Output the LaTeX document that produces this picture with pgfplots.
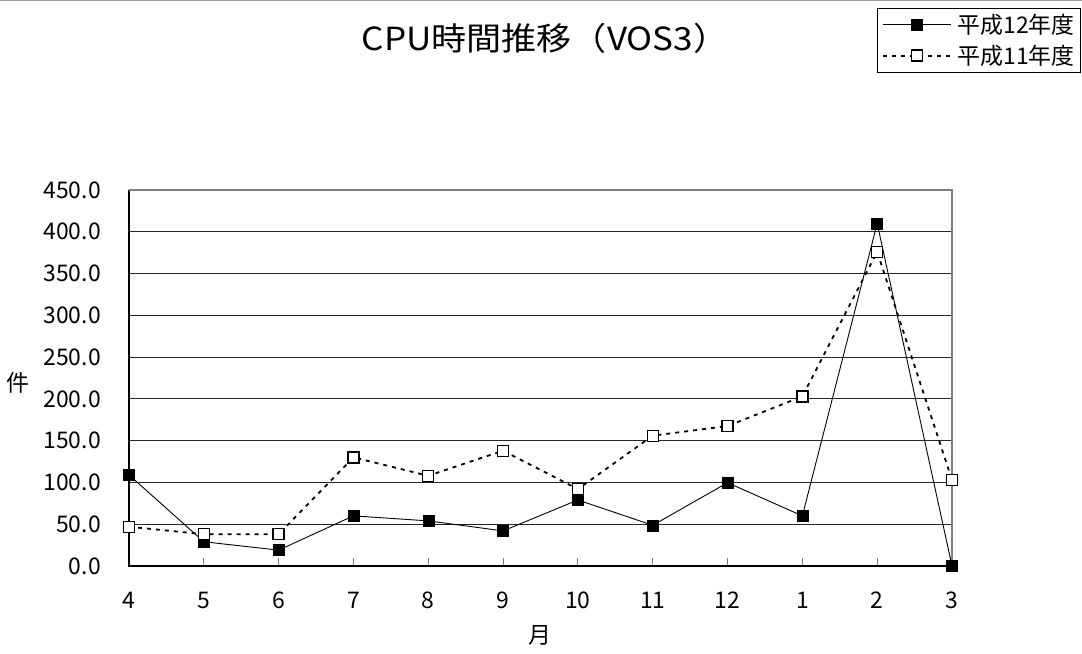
\documentclass[border=0pt]{standalone}
\usepackage{fontspec}
\setmainfont{Noto Sans CJK JP}
\newfontfamily\titlefont[FakeStretch=1.1]{Noto Sans CJK JP}
\usepackage{pgfplots}
\pgfplotsset{compat=1.18}
\pgfplotstableread{
x a b
0 109 47
1 29 38
2 19 38
3 60 130
4 54 108
5 42 138
6 79 92
7 48.7 156
8 99.7 167.5
9 60 203
10 410 376
11 0 103
}\data
\begin{document}
\begin{tikzpicture}
\useasboundingbox (0,0) rectangle (1082bp,654bp);
\draw[gray!80, line width=1.5bp] (0,653.3bp) -- (1082bp,653.3bp);
\begin{axis}[
  at={(129bp,88bp)}, anchor=south west,
  scale only axis, width=823bp, height=376bp,
  clip=false,
  xmin=0, xmax=11, ymin=0, ymax=450,
  xtick={0,...,11},
  xticklabels={4,5,6,7,8,9,10,11,12,1,2,3},
  ytick={0,50,...,450},
  yticklabel={\pgfmathprintnumber[fixed,fixed zerofill,precision=1]{\tick}},
  /pgf/number format/assume math mode=true,
  ymajorgrids,
  grid style={black!85, line width=0.8bp},
  axis line style={draw=none},
  xtick style={draw=gray, line width=1bp},
  xtick pos=bottom,
  tick align=inside,
  major tick length=8bp,
  ytick style={draw=none},
  tick label style={font=\fontsize{23}{25}\selectfont},
  yticklabel style={anchor=east, inner sep=0pt, xshift=-28bp},
  xticklabel style={anchor=center, inner sep=0pt, yshift=-34bp},
  title={\titlefont CPU時間推移（VOS3）},
  title style={at={(axis description cs:0.5055,1.388)}, anchor=center, font=\fontsize{32}{34}\selectfont, inner sep=0pt},
  xlabel={月},
  ylabel={件},
  every axis x label/.style={at={(axis description cs:0.4994,-0.1835)}, anchor=center, font=\fontsize{23}{25}\selectfont, inner sep=0pt},
  every axis y label/.style={at={(axis description cs:-0.1349,0.4867)}, anchor=center, font=\fontsize{23}{25}\selectfont, inner sep=0pt},
  legend style={at={(1.1568,1.484)}, anchor=north east, draw=black, line width=0.8bp,
     font=\fontsize{23}{25}\selectfont, row sep=6bp, inner xsep=4bp, inner ysep=4bp,
     cells={anchor=west, inner xsep=3bp},
     /tikz/every odd column/.append style={column sep=4bp}},
  legend image code/.code={
    \draw[mark repeat=2,mark phase=2,#1] plot coordinates {(0bp,0bp) (34bp,0bp) (68bp,0bp)};
  },
]
% frame
\draw[black, line width=1.6bp] (axis cs:0,450) -- (axis cs:0,0) -- (axis cs:11,0);
\draw[gray, line width=1.2bp] (axis cs:0,450) -- (axis cs:11,450) -- (axis cs:11,0);
\addplot[black, line width=0.9bp, mark=square*, mark size=5.5bp, mark options={solid, fill=black, line width=0.5bp}] table[x=x,y=a] {\data};
\addlegendentry{平成12年度}
\addplot[black, line width=1.8bp, dash pattern=on 4bp off 5bp, mark=square*, mark size=5.5bp, mark options={solid, fill=white, line width=1.3bp}] table[x=x,y=b] {\data};
\addlegendentry{平成11年度}
\end{axis}
\end{tikzpicture}
\end{document}
